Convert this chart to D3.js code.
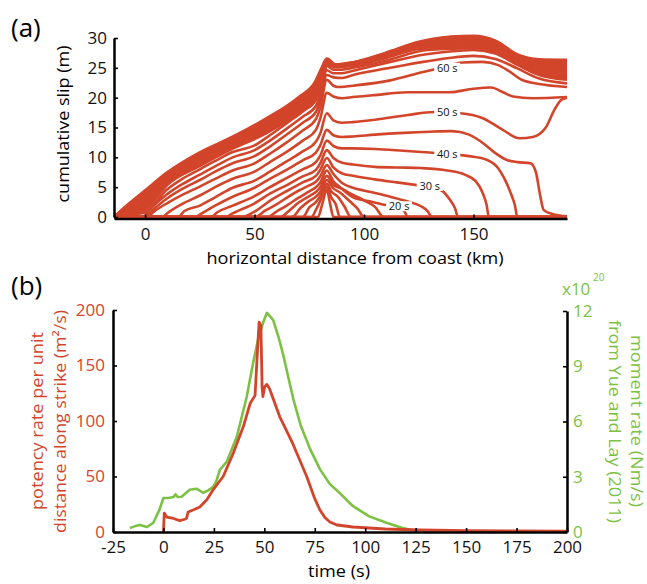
<!DOCTYPE html>
<html>
<head>
<meta charset="utf-8">
<script src="https://cdn.jsdelivr.net/npm/d3@7"></script>
<style>
  body { margin: 0; background: #fff; }
  text { font-family: "Open Sans", sans-serif; }
</style>
</head>
<body>
<script>
// ---- panel (a): cumulative slip profiles, one every 5 s (km, m) ----
const slipTimes = [-5, 0, 5, 10, 15, 20, 25, 30, 35, 40, 45, 50, 55, 60, 65, 70, 75];
const slipCurves = [
  [[79,0],[81,2.3],[83,4.6],[84.5,2.2],[86,0]],
  [[76,0],[78,1.2],[80,2.7],[83,5.1],[85,3.3],[87,2.2],[89,0]],
  [[72,0],[75,1.6],[78,2.5],[80,3.5],[83,5.6],[85,4.3],[88,3.4],[91,1.8],[94,0]],
  [[67,0],[71,1.5],[75,2.7],[78,3.4],[80,4.2],[83,6.2],[86,4.8],[89,4.1],[93,2.8],[97,1.4],[100,0]],
  [[62,0],[65,0.8],[70,2.4],[75,3.5],[78,4.2],[80,5.0],[83,6.9],[86,5.4],[90,4.7],[95,3.7],[100,2.8],[105,1.7],[109,0]],
  [[56,0],[60,0.9],[65,2.0],[70,3.2],[75,4.3],[78,5.0],[80,5.8],[83,7.8],[86,6.0],[89,5.0],[95,3.3],[103,2.6],[110,2.0],[116,1.7],[118.5,0.9],[120,0]],
  [[50,0],[55,1.1],[60,2.1],[65,3.3],[70,4.4],[75,5.3],[78,5.9],[80,6.8],[83,8.7],[86,7.2],[90,5.7],[95,4.9],[103,4.2],[112,3.4],[120,2.6],[126,1.8],[129,1.0],[131,0]],
  [[44,0],[50,0.9],[57,2.7],[65,4.4],[72,5.8],[78,6.9],[80,7.9],[83,9.9],[86,8.3],[90,7.3],[95,6.9],[105,6.3],[115,5.8],[125,5.3],[131,5.0],[136,4.3],[139,3.0],[141.5,1.5],[143,0]],
  [[37,0],[40,0.6],[50,2.3],[57,3.9],[65,5.4],[72,6.8],[78,7.9],[80,9.0],[83,11.2],[86,9.9],[90,9.1],[95,8.8],[105,8.4],[115,8.3],[126,8.2],[138,7.8],[146,7.1],[151,6.0],[154,4.2],[156,2.0],[157,0]],
  [[30,0],[33,0.8],[40,1.9],[50,3.5],[57,5.0],[65,6.6],[72,8.0],[78,9.2],[80,10.3],[83,12.8],[86,11.9],[90,11.5],[95,11.5],[105,11.4],[118,11.1],[130,10.8],[138,10.6],[148,10.2],[156,9.6],[161,8.3],[164,6.5],[167,4.0],[169,1.8],[170,0]],
  [[23,0],[25,0.4],[32,1.9],[40,3.4],[50,4.9],[57,6.4],[65,8.0],[72,9.5],[78,10.8],[80,12.0],[83,14.6],[86,13.7],[90,13.4],[95,13.5],[105,13.8],[118,14.1],[130,14.3],[140,14.4],[148,13.8],[155,12.2],[160,10.7],[165,9.6],[170,9.2],[176,9.0],[178.5,7.5],[180.5,3.5],[182,1.2],[186,0.5],[192.7,0.1]],
  [[15,0],[18,1.0],[25,1.9],[32,3.3],[40,4.9],[50,6.1],[57,7.6],[65,9.4],[72,11.0],[78,12.6],[80,14.0],[83,17.4],[86,16.2],[90,15.8],[95,15.9],[105,16.3],[120,17.1],[132,17.6],[144,17.4],[154,16.6],[163,14.7],[171,13.2],[177,13.4],[183,15.0],[187,18.0],[190,19.6],[192.7,20.0]],
  [[8,0],[10,0.6],[17,2.2],[25,3.6],[32,5.0],[40,6.4],[50,7.6],[57,9.2],[65,11.0],[72,12.8],[78,14.6],[80,16.5],[83,20.8],[86,20.2],[90,19.9],[95,20.1],[104,20.4],[120,20.9],[139,20.9],[150,21.5],[158,21.7],[163,21.0],[168,20.2],[177,19.9],[192.7,20.1]],
  [[1,0],[4,0.9],[10,2.3],[17,3.7],[25,5.1],[32,6.4],[40,7.8],[50,9.0],[57,10.6],[65,12.6],[72,14.5],[78,16.4],[80,18.3],[83,23.0],[86,22.0],[88,21.8],[97,22.1],[112,22.9],[127,24.3],[135,25.0],[145,25.9],[154,26.0],[161,25.5],[166,24.5],[172,23.0],[180,22.3],[192.7,21.8]],
  [[0,0],[3,1.0],[10,3.1],[17,4.7],[25,6.2],[32,7.6],[40,9.0],[50,10.2],[57,11.8],[65,13.9],[72,15.8],[78,17.6],[80,19.5],[83,23.8],[86,23.4],[90,23.3],[95,23.8],[112,25.0],[127,26.0],[138,26.6],[150,27.0],[160,26.5],[170,24.9],[180,23.2],[192.7,22.4]],
  [[-1,0],[2,1.2],[10,3.8],[17,5.5],[25,7.1],[32,8.5],[40,10.0],[50,11.2],[57,12.8],[65,14.9],[72,16.8],[78,18.6],[80,20.5],[83,24.6],[86,24.1],[90,24.1],[95,24.5],[112,26.0],[127,27.2],[138,27.7],[150,28.0],[160,27.4],[170,25.5],[180,23.8],[192.7,23.0]],
  [[-14,0],[-8,0.3],[0,0.8],[10,4.6],[17,6.4],[25,8.0],[32,9.4],[40,10.9],[50,12.0],[57,13.7],[65,15.8],[72,17.7],[78,19.6],[80,21.4],[83,25.3],[86,24.7],[90,24.7],[95,25.0],[112,26.4],[127,27.9],[140,28.2],[150,28.3],[160,27.6],[170,25.7],[180,23.9],[192.7,23.3]]
];

// later profiles bunch together into the thick band at the top
const bandKm = [-14, -8, 0, 10, 25, 40, 55, 70, 78, 81, 83, 87, 95, 110, 125, 140, 150, 160, 170, 180, 192.7];
const bandSlip = [
  [0, 0.5, 1.3, 5.4, 8.6, 11.5, 14.0, 17.6, 20.2, 23.0, 25.6, 25.2, 25.4, 26.7, 28.2, 28.5, 28.5, 27.8, 25.9, 24.0, 23.6],
  [0, 0.8, 1.8, 5.7, 8.9, 11.8, 14.3, 18.0, 20.6, 23.4, 25.7, 25.25, 25.5, 26.8, 28.4, 28.8, 28.8, 28.1, 26.1, 24.3, 24.0],
  [0, 1.0, 2.3, 6.0, 9.2, 12.1, 14.7, 18.4, 21.0, 23.8, 25.8, 25.3, 25.6, 26.9, 28.6, 29.1, 29.1, 28.4, 26.3, 24.7, 24.4],
  [0, 1.2, 2.7, 6.3, 9.5, 12.4, 15.1, 18.8, 21.4, 24.1, 26.0, 25.35, 25.7, 27.1, 28.8, 29.4, 29.4, 28.7, 26.5, 25.1, 24.8],
  [0, 1.4, 3.1, 6.6, 9.9, 12.7, 15.4, 19.1, 21.8, 24.4, 26.1, 25.4, 25.75, 27.2, 28.9, 29.7, 29.7, 29.0, 26.7, 25.5, 25.2],
  [0, 1.6, 3.5, 6.9, 10.2, 12.9, 15.7, 19.4, 22.1, 24.7, 26.3, 25.45, 25.8, 27.3, 29.1, 29.9, 30.0, 29.2, 26.9, 25.8, 25.6],
  [0, 1.8, 4.0, 7.2, 10.5, 13.2, 16.1, 19.7, 22.5, 25.0, 26.4, 25.5, 25.85, 27.4, 29.2, 30.1, 30.2, 29.3, 27.1, 26.1, 26.0],
  [0, 2.0, 4.4, 7.4, 10.8, 13.4, 16.4, 20.0, 22.8, 25.2, 26.5, 25.5, 25.9, 27.5, 29.3, 30.2, 30.3, 29.5, 27.2, 26.4, 26.3]
];

const contourText = ["20 s", "30 s", "40 s", "50 s", "60 s"];
const contourKm = [116, 130, 138, 138, 138];
const contourSlip = [1.8, 5.2, 10.6, 17.5, 25.0];

const slipTicks = [0, 5, 10, 15, 20, 25, 30];
const distTicks = [0, 50, 100, 150];

// ---- panel (b): potency rate (m^2/s) and moment rate (x10^20 Nm/s) ----
const potencyTime = [0, 0.4, 1.7, 5, 8, 10.6, 11.5, 12.2, 15, 18, 21.5, 24.6, 29.6, 34.6, 39.6, 43, 45.4, 46.5, 47.4, 48.3, 48.9, 49.3, 50.2, 51.2, 52.6, 57.6, 64, 71, 75, 77.5, 80, 82.5, 86, 94, 110, 127, 150, 175, 200];
const potencyRate = [0, 17, 13.5, 12.2, 10.3, 11.5, 12.5, 18, 20, 22.5, 29, 38, 50, 71, 95, 116, 123, 160, 189, 186, 130, 122, 131, 133, 129, 104, 80, 50, 30, 20, 13, 9, 6.3, 4.5, 2.7, 1.8, 1.3, 1.0, 0.8];

const momentTime = [-16.6, -14, -11.6, -8.2, -5.1, -2, 0, 2.5, 5, 6, 7, 9, 11, 13, 16.4, 19.6, 22, 24.6, 26, 28, 31.4, 36.4, 41.3, 44.5, 47, 49.5, 51.3, 53, 54.4, 57, 59.4, 64.4, 68, 72.7, 77.6, 82.5, 87.5, 94, 102, 110.5, 118.5, 125.6];
const momentRate = [0.22, 0.32, 0.38, 0.27, 0.49, 1.2, 1.85, 1.85, 1.9, 2.05, 1.9, 1.91, 2.1, 2.29, 2.35, 2.13, 2.25, 2.45, 2.7, 3.38, 3.82, 5.18, 7.36, 9.22, 10.5, 11.4, 11.9, 11.7, 11.5, 10.6, 9.6, 7.2, 5.8, 4.5, 3.4, 2.6, 2.1, 1.4, 0.85, 0.5, 0.22, 0.05];

const timeTicks = [-25, 0, 25, 50, 75, 100, 125, 150, 175, 200];
const potencyTicks = [0, 50, 100, 150, 200];
const momentTicks = [0, 3, 6, 9, 12];

const red = "#d2452b";
const green = "#7cc143";

const svg = d3.select("body").append("svg")
  .attr("width", 647)
  .attr("height", 584);

// style an axis group MATLAB-like: thick spine, short inward ticks
function styleAxis(g, col) {
  g.select(".domain").attr("stroke", "#000").attr("stroke-width", 2.5);
  g.selectAll(".tick line").attr("stroke", "#000").attr("stroke-width", 1.6);
  g.selectAll(".tick text")
    .attr("fill", col)
    .style("font-family", "'Open Sans', sans-serif")
    .style("font-size", "17px");
}

// ================= panel (a) =================
const xA = d3.scaleLinear().domain([-14.2, 192.7]).range([114, 567]);
const yA = d3.scaleLinear().domain([0, 30]).range([217, 38]);

const slipLine = d3.line()
  .x(d => xA(d[0]))
  .y(d => yA(d[1]))
  .curve(d3.curveMonotoneX);

// pad each profile with zero slip out to the plot edges
const padded = slipCurves.map(pts => {
  let p = pts.slice();
  if (p[0][0] > -14.2) p.unshift([-14.2, 0]);
  if (p[p.length - 1][0] < 192.7) p.push([192.7, 0]);
  return p;
});

const gA = svg.append("g");

gA.selectAll(".band")
  .data(bandSlip)
  .enter()
  .append("path")
  .attr("class", "band")
  .attr("d", s => slipLine(s.map((v, i) => [bandKm[i], v])))
  .attr("fill", "none")
  .attr("stroke", red)
  .attr("stroke-width", 3.2);

gA.selectAll(".profile")
  .data(padded)
  .enter()
  .append("path")
  .attr("class", "profile")
  .attr("d", slipLine)
  .attr("fill", "none")
  .attr("stroke", red)
  .attr("stroke-width", 2.6)
  .attr("stroke-linejoin", "round");

// time labels sit on the curves with a white gap
const lab = gA.selectAll(".clab")
  .data(contourText)
  .enter()
  .append("g")
  .attr("class", "clab")
  .attr("transform", (d, i) => "translate(" + xA(contourKm[i]) + "," + yA(contourSlip[i]) + ")");

lab.append("rect")
  .attr("x", -13).attr("y", -5)
  .attr("width", 26).attr("height", 10)
  .attr("fill", "#fff");

lab.append("text")
  .attr("text-anchor", "middle")
  .attr("dy", "0.35em")
  .style("font-size", "11px")
  .attr("fill", "#111")
  .text(d => d);

const axA_y = gA.append("g")
  .attr("transform", "translate(114,0)")
  .call(d3.axisLeft(yA).tickValues(slipTicks).tickSize(-4).tickSizeOuter(0).tickPadding(7));
styleAxis(axA_y, "#111");

const axA_x = gA.append("g")
  .attr("transform", "translate(0,218.5)")
  .call(d3.axisBottom(xA).tickValues(distTicks).tickSize(-4).tickSizeOuter(0).tickPadding(9.5));
styleAxis(axA_x, "#111");

svg.append("text")
  .attr("x", 11).attr("y", 37)
  .style("font-size", "26px")
  .text("(a)");

svg.append("text")
  .attr("transform", "translate(69,124) rotate(-90)")
  .attr("text-anchor", "middle")
  .attr("textLength", 157)
  .attr("lengthAdjust", "spacingAndGlyphs")
  .style("font-size", "17px")
  .text("cumulative slip (m)");

svg.append("text")
  .attr("x", 355).attr("y", 264)
  .attr("text-anchor", "middle")
  .attr("textLength", 297)
  .attr("lengthAdjust", "spacingAndGlyphs")
  .style("font-size", "17px")
  .text("horizontal distance from coast (km)");

// ================= panel (b) =================
const xB = d3.scaleLinear().domain([-25, 200]).range([113, 567]);
const yL = d3.scaleLinear().domain([0, 200]).range([532, 310]);
const yR = d3.scaleLinear().domain([0, 12]).range([532, 311]);

const gB = svg.append("g");

gB.append("path")
  .datum(d3.zip(momentTime, momentRate))
  .attr("d", d3.line().x(d => xB(d[0])).y(d => yR(d[1])))
  .attr("fill", "none")
  .attr("stroke", green)
  .attr("stroke-width", 2.6)
  .attr("stroke-linejoin", "round");

gB.append("path")
  .datum(d3.zip(potencyTime, potencyRate))
  .attr("d", d3.line().x(d => xB(d[0])).y(d => yL(d[1])))
  .attr("fill", "none")
  .attr("stroke", red)
  .attr("stroke-width", 2.8)
  .attr("stroke-linejoin", "round");

const axB_x = gB.append("g")
  .attr("transform", "translate(0,532)")
  .call(d3.axisBottom(xB).tickValues(timeTicks).tickFormat(d => String(d))
    .tickSize(-4).tickSizeOuter(0).tickPadding(9));
styleAxis(axB_x, "#111");

const axB_l = gB.append("g")
  .attr("transform", "translate(113,0)")
  .call(d3.axisLeft(yL).tickValues(potencyTicks).tickSize(-4).tickSizeOuter(0).tickPadding(8));
styleAxis(axB_l, red);

const axB_r = gB.append("g")
  .attr("transform", "translate(567,0)")
  .call(d3.axisRight(yR).tickValues(momentTicks).tickSize(-4).tickSizeOuter(0).tickPadding(6));
styleAxis(axB_r, green);

svg.append("text")
  .attr("x", 11).attr("y", 295)
  .style("font-size", "26px")
  .text("(b)");

svg.append("text")
  .attr("x", 339).attr("y", 577)
  .attr("text-anchor", "middle")
  .attr("textLength", 62)
  .attr("lengthAdjust", "spacingAndGlyphs")
  .style("font-size", "17px")
  .text("time (s)");

svg.append("text")
  .attr("transform", "translate(43,421) rotate(-90)")
  .attr("text-anchor", "middle")
  .attr("textLength", 178)
  .attr("lengthAdjust", "spacingAndGlyphs")
  .attr("fill", red)
  .style("font-size", "17px")
  .text("potency rate per unit");

svg.append("text")
  .attr("transform", "translate(66,421.5) rotate(-90)")
  .attr("text-anchor", "middle")
  .attr("textLength", 223)
  .attr("lengthAdjust", "spacingAndGlyphs")
  .attr("fill", red)
  .style("font-size", "17px")
  .text("distance along strike (m²/s)");

svg.append("text")
  .attr("transform", "translate(630.5,421) rotate(90)")
  .attr("text-anchor", "middle")
  .attr("textLength", 172)
  .attr("lengthAdjust", "spacingAndGlyphs")
  .attr("fill", green)
  .style("font-size", "17px")
  .text("moment rate (Nm/s)");

svg.append("text")
  .attr("transform", "translate(608.5,421.5) rotate(90)")
  .attr("text-anchor", "middle")
  .attr("textLength", 203)
  .attr("lengthAdjust", "spacingAndGlyphs")
  .attr("fill", green)
  .style("font-size", "17px")
  .text("from Yue and Lay (2011)");

svg.append("text")
  .attr("x", 562).attr("y", 295)
  .attr("fill", green)
  .style("font-size", "17px")
  .text("x10");

svg.append("text")
  .attr("x", 593).attr("y", 281)
  .attr("fill", green)
  .style("font-size", "10px")
  .text("20");
</script>
</body>
</html>
